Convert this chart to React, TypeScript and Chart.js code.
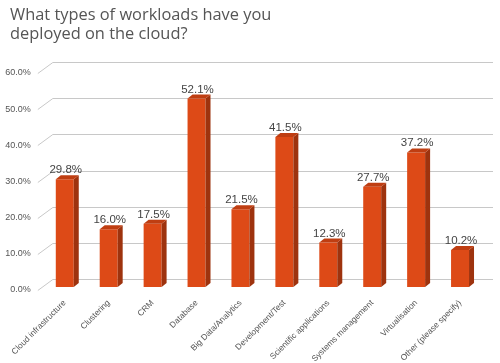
import React, { useEffect, useRef } from "react";
import { Chart, registerables } from "chart.js";

Chart.register(...registerables);

const titleLines = ["What types of workloads have you", "deployed on the cloud?"];
const categories = [
  "Cloud infrastructure",
  "Clustering",
  "CRM",
  "Database",
  "Big Data/Analytics",
  "Development/Test",
  "Scientific applications",
  "Systems management",
  "Virtualisation",
  "Other (please specify)",
];
const values = [29.8, 16.0, 17.5, 52.1, 21.5, 41.5, 12.3, 27.7, 37.2, 10.2];
const yMax = 60;
const yStep = 10;

const FRONT = "#dd4a17";
const SIDE = "#9e330e";
const TOP = "#bf3e12";

const depthPlugin = {
  id: "depth3d",
  beforeDatasetsDraw(chart: any) {
    const { ctx, chartArea, scales } = chart;
    const y = scales.y;
    ctx.save();
    ctx.strokeStyle = "#c8c8c8";
    ctx.lineWidth = 1;
    for (let v = 0; v <= yMax; v += yStep) {
      const yf = Math.round(y.getPixelForValue(v));
      ctx.beginPath();
      ctx.moveTo(chartArea.left - 5, yf + 3.5);
      ctx.lineTo(chartArea.left + 10, yf - 7.5);
      ctx.lineTo(chartArea.right + 11, yf - 7.5);
      ctx.stroke();
    }
    ctx.restore();
  },
  afterDatasetsDraw(chart: any) {
    const { ctx } = chart;
    const meta = chart.getDatasetMeta(0);
    const dx = 5;
    const dy = 4;
    ctx.save();
    meta.data.forEach((bar: any, i: number) => {
      const props = bar.getProps(["x", "y", "base", "width"], true);
      const l = props.x - props.width / 2;
      const r = props.x + props.width / 2;
      const t = props.y;
      const b = props.base;
      ctx.fillStyle = SIDE;
      ctx.beginPath();
      ctx.moveTo(r, t);
      ctx.lineTo(r + dx, t - dy);
      ctx.lineTo(r + dx, b - dy);
      ctx.lineTo(r, b);
      ctx.closePath();
      ctx.fill();
      ctx.fillStyle = TOP;
      ctx.beginPath();
      ctx.moveTo(l, t);
      ctx.lineTo(l + dx, t - dy);
      ctx.lineTo(r + dx, t - dy);
      ctx.lineTo(r, t);
      ctx.closePath();
      ctx.fill();
      ctx.fillStyle = "#444";
      ctx.font = "11.5px 'Liberation Sans', Arial, sans-serif";
      ctx.textAlign = "center";
      ctx.textBaseline = "alphabetic";
      ctx.fillText(values[i].toFixed(1) + "%", props.x + 1, t - 6);
    });
    ctx.restore();
  },
  afterDraw(chart: any) {
    const { ctx } = chart;
    ctx.save();
    ctx.fillStyle = "#555";
    ctx.font = "16.4px 'Open Sans', sans-serif";
    ctx.textAlign = "left";
    ctx.textBaseline = "alphabetic";
    ctx.fillText(titleLines[0], 10, 20);
    ctx.fillText(titleLines[1], 10, 39);
    ctx.restore();
  },
};

export default function App() {
  const ref = useRef<HTMLCanvasElement | null>(null);
  useEffect(() => {
    if (!ref.current) return;
    const chart = new Chart(ref.current, {
      type: "bar",
      data: {
        labels: categories,
        datasets: [
          {
            data: values,
            backgroundColor: FRONT,
            barPercentage: 18 / 44,
            categoryPercentage: 1,
          },
        ],
      },
      options: {
        animation: false,
        responsive: false,
        layout: { padding: { top: 70, right: 18, left: 0, bottom: 0 } },
        plugins: { legend: { display: false }, tooltip: { enabled: false }, title: { display: false } },
        scales: {
          x: {
            grid: { display: false, drawTicks: false },
            border: { display: false },
            ticks: {
              color: "#555",
              font: { family: "'Liberation Sans', Arial, sans-serif", size: 8.4 },
              minRotation: 45,
              maxRotation: 45,
              autoSkip: false,
              padding: 11,
            },
            afterFit: (s: any) => {
              s.height = 76;
            },
          },
          y: {
            min: 0,
            max: yMax,
            grid: { display: false, drawTicks: false },
            border: { display: false },
            ticks: {
              stepSize: yStep,
              color: "#555",
              font: { family: "'Liberation Sans', Arial, sans-serif", size: 9 },
              padding: 12,
              labelOffset: 3,
              callback: (v: any) => Number(v).toFixed(1) + "%",
            },
            afterFit: (s: any) => {
              s.width = 42;
            },
          },
        },
      },
      plugins: [depthPlugin],
    });
    return () => chart.destroy();
  }, []);
  return (
    <div style={{ position: "fixed", left: 0, top: 0, width: 500, height: 363, background: "#fff" }}>
      <canvas ref={ref} width={500} height={363} />
    </div>
  );
}
